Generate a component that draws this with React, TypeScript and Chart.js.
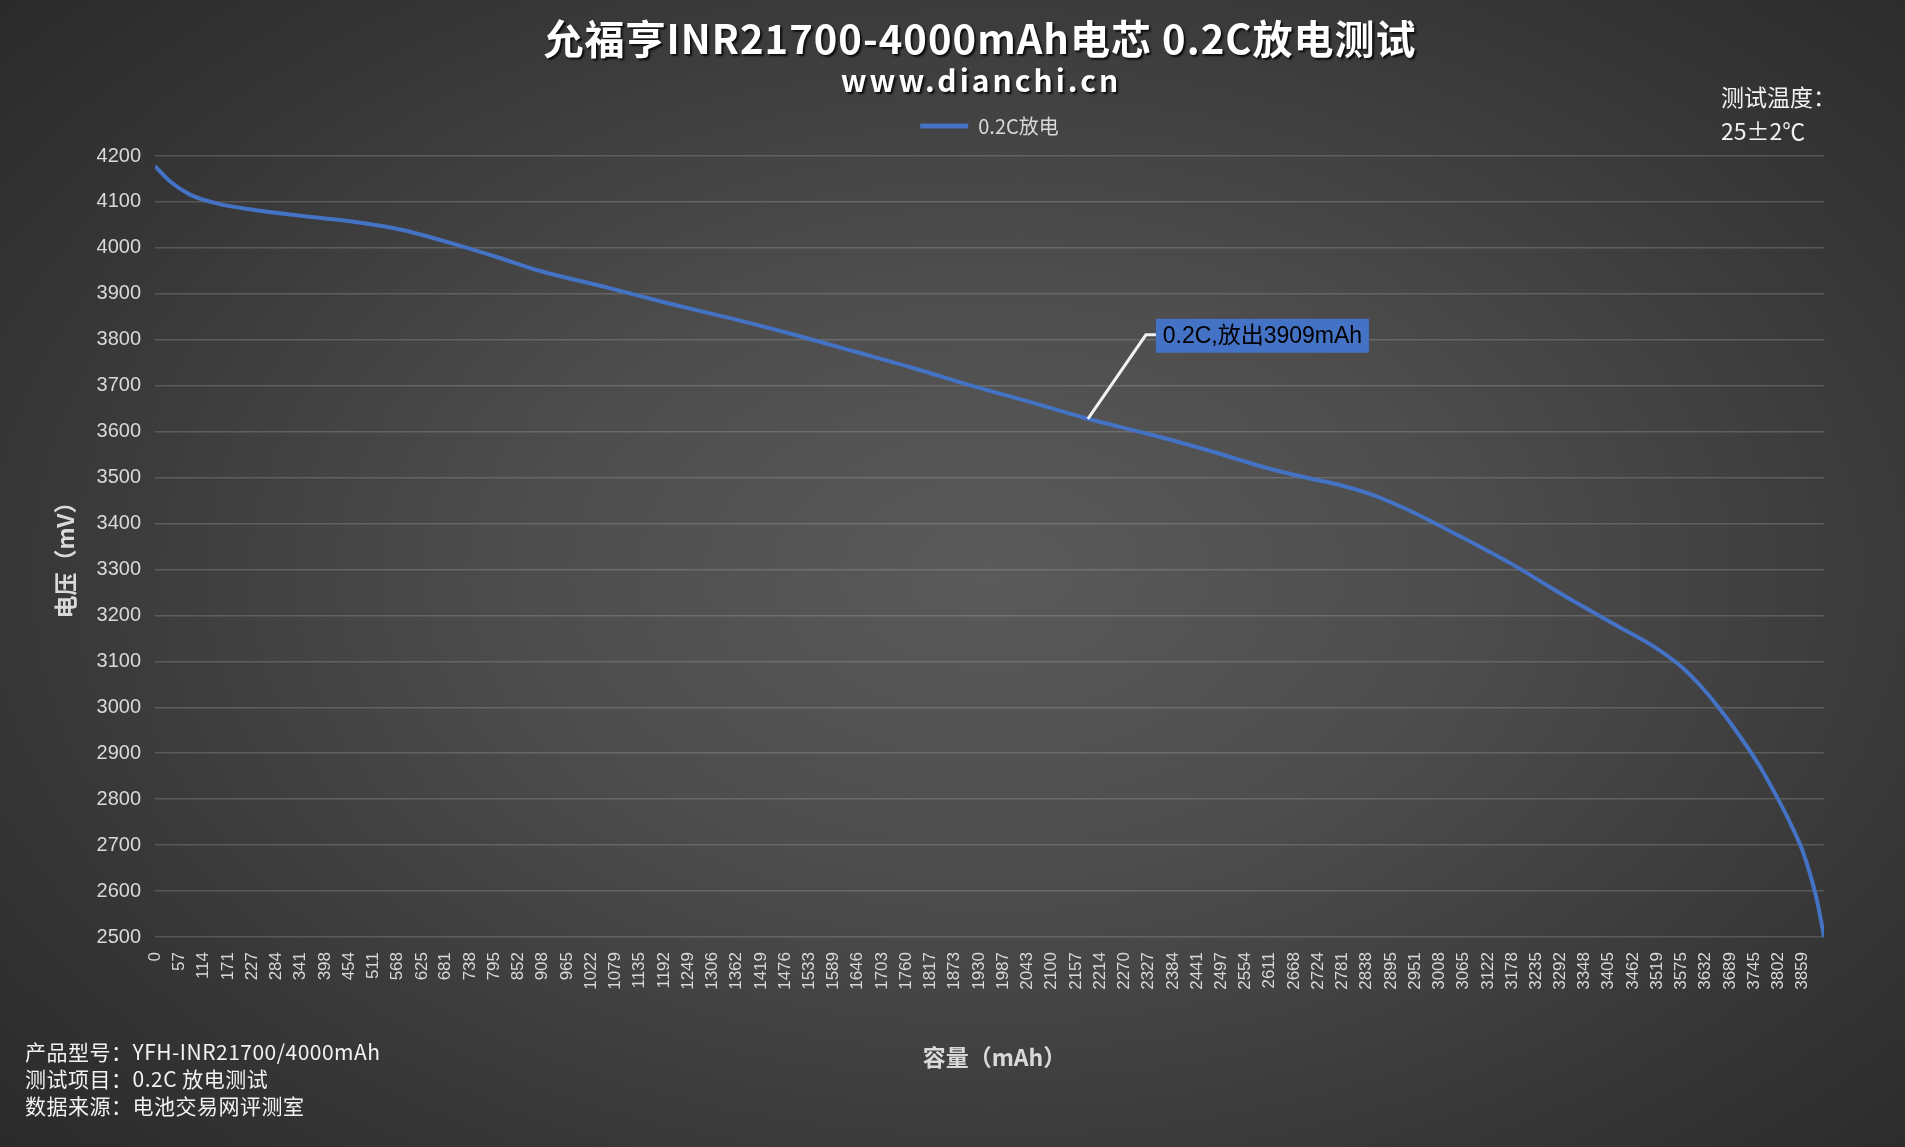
import React, { useEffect, useRef } from 'react';
import { Chart, registerables } from 'chart.js';

Chart.register(...registerables);

// ---------- data ----------
const SERIES_LABEL = '0.2C放电';
const CAPACITY = [0, 35, 82, 144, 222, 340, 457, 574, 691, 808, 886, 1062, 1204, 1347, 1489, 1632, 1774, 1916, 2059, 2185, 2343, 2486, 2600, 2700, 2770, 2856, 2934, 3057, 3181, 3304, 3427, 3509, 3575, 3630, 3666, 3712, 3759, 3798, 3829, 3857, 3876, 3892, 3902, 3909];
const VOLTAGE = [4178, 4145, 4116, 4097, 4084, 4070, 4058, 4040, 4011, 3978, 3954, 3913, 3879, 3847, 3813, 3776, 3739, 3699, 3662, 3628, 3591, 3554, 3522, 3499, 3485, 3461, 3430, 3372, 3310, 3241, 3176, 3133, 3088, 3036, 2995, 2937, 2871, 2806, 2750, 2692, 2638, 2582, 2536, 2500];
const X_TICKS = [0, 57, 114, 171, 227, 284, 341, 398, 454, 511, 568, 625, 681, 738, 795, 852, 908, 965, 1022, 1079, 1135, 1192, 1249, 1306, 1362, 1419, 1476, 1533, 1589, 1646, 1703, 1760, 1817, 1873, 1930, 1987, 2043, 2100, 2157, 2214, 2270, 2327, 2384, 2441, 2497, 2554, 2611, 2668, 2724, 2781, 2838, 2895, 2951, 3008, 3065, 3122, 3178, 3235, 3292, 3348, 3405, 3462, 3519, 3575, 3632, 3689, 3745, 3802, 3859];
const X_MAX = 3909;
const Y_MIN = 2500;
const Y_MAX = 4200;
const Y_STEP = 100;
const ANNOTATION_POINT = [2185, 3628];
const ANNOTATION_TEXT = '0.2C,放出3909mAh';

const TITLE = '允福亨INR21700-4000mAh电芯 0.2C放电测试';
const SUBTITLE = 'www.dianchi.cn';
const X_TITLE = '容量（mAh）';
const Y_TITLE = '电压（mV）';
const TEMP_LINES = ['测试温度：', '25±2℃'];
const INFO_LINES = ['产品型号：YFH-INR21700/4000mAh', '测试项目：0.2C 放电测试', '数据来源：电池交易网评测室'];

// ---------- style ----------
const W = 1905;
const H = 1147;
const CJK = '"Noto Sans CJK SC", "Noto Sans", sans-serif';
const LATIN = '"Liberation Sans", Arial, "Noto Sans CJK SC", sans-serif';
const LINE_COLOR = '#4472c4';
const AXIS_TEXT = '#d9d9d9';
const GRID = 'rgba(255,255,255,0.16)';
const BG = 'radial-gradient(ellipse 70% 75% at 52% 50%, #5a5a5a 0%, #4d4d4d 35%, #363636 75%, #2a2a2a 100%)';

const decorPlugin = {
  id: 'decor',
  beforeLayout(chart: any) {
    const lg = chart.legend;
    if (lg && !lg.__patched) {
      const orig = lg.fit;
      lg.fit = function () {
        orig.call(this);
        this.height += 10;
      };
      lg.__patched = true;
    }
  },
  afterDatasetsDraw(chart: any) {
    const ctx = chart.ctx as CanvasRenderingContext2D;
    const xs = chart.scales.x;
    const ys = chart.scales.y;
    const ax = xs.getPixelForValue(ANNOTATION_POINT[0]);
    const ay = ys.getPixelForValue(ANNOTATION_POINT[1]);
    const elbowX = ax + 58;
    const elbowY = ay - 84;
    const boxL = ax + 68;
    const boxT = ay - 100;
    const boxW = 213;
    const boxH = 34;
    ctx.save();
    ctx.strokeStyle = '#f2f2f2';
    ctx.lineWidth = 3;
    ctx.lineJoin = 'miter';
    ctx.beginPath();
    ctx.moveTo(ax, ay);
    ctx.lineTo(elbowX, elbowY);
    ctx.lineTo(boxL, elbowY);
    ctx.stroke();
    ctx.fillStyle = LINE_COLOR;
    ctx.fillRect(boxL, boxT, boxW, boxH);
    ctx.fillStyle = '#000000';
    ctx.font = `23px ${LATIN}`;
    ctx.textAlign = 'center';
    ctx.textBaseline = 'middle';
    ctx.fillText(ANNOTATION_TEXT, boxL + boxW / 2, boxT + boxH / 2 + 1);
    ctx.restore();
  },
  afterDraw(chart: any) {
    const ctx = chart.ctx as CanvasRenderingContext2D;
    const area = chart.chartArea;
    ctx.save();
    // title with shadow
    ctx.textAlign = 'center';
    ctx.textBaseline = 'middle';
    ctx.shadowColor = 'rgba(0,0,0,0.8)';
    ctx.shadowOffsetX = 2;
    ctx.shadowOffsetY = 2;
    ctx.shadowBlur = 2;
    ctx.fillStyle = '#ffffff';
    ctx.font = `bold 40px ${CJK}`;
    (ctx as any).letterSpacing = '1px';
    ctx.fillText(TITLE, 980, 39);
    ctx.font = `bold 30px ${CJK}`;
    (ctx as any).letterSpacing = '3px';
    ctx.fillText(SUBTITLE, 981, 81);
    (ctx as any).letterSpacing = '0px';
    ctx.shadowColor = 'transparent';
    ctx.shadowOffsetX = 0;
    ctx.shadowOffsetY = 0;
    ctx.shadowBlur = 0;
    // axis titles
    ctx.fillStyle = AXIS_TEXT;
    ctx.font = `bold 23px ${CJK}`;
    ctx.fillText(X_TITLE, (area.left + area.right) / 2 + 5, 1057);
    ctx.save();
    ctx.translate(65, (area.top + area.bottom) / 2 + 8);
    ctx.rotate(-Math.PI / 2);
    ctx.fillText(Y_TITLE, 0, 0);
    ctx.restore();
    // temperature note
    ctx.textAlign = 'left';
    ctx.fillStyle = '#f2f2f2';
    ctx.font = `23px ${CJK}`;
    ctx.fillText(TEMP_LINES[0], 1721, 97);
    ctx.fillText(TEMP_LINES[1], 1721, 131);
    // info lines
    ctx.font = `21px ${CJK}`;
    (ctx as any).letterSpacing = '0.5px';
    INFO_LINES.forEach((t, i) => ctx.fillText(t, 25, 1052 + i * 27));
    (ctx as any).letterSpacing = '0px';
    ctx.restore();
  },
};

export default function App() {
  const ref = useRef<HTMLCanvasElement>(null);
  useEffect(() => {
    document.body.style.margin = '0';
    const canvas = ref.current;
    if (!canvas) return;
    const points = CAPACITY.map((c, i) => ({ x: c, y: VOLTAGE[i] }));
    const chart = new Chart(canvas, {
      type: 'line',
      data: {
        datasets: [
          {
            label: SERIES_LABEL,
            data: points,
            borderColor: LINE_COLOR,
            backgroundColor: LINE_COLOR,
            borderWidth: 4,
            pointRadius: 0,
            cubicInterpolationMode: 'monotone',
            fill: false,
          },
        ],
      },
      options: {
        animation: false,
        responsive: false,
        devicePixelRatio: 1,
        layout: { padding: { top: 99, left: 0, right: 81, bottom: 0 } },
        plugins: {
          title: { display: false },
          subtitle: { display: false },
          tooltip: { enabled: false },
          legend: {
            display: true,
            position: 'top',
            fullSize: false,
            labels: {
              color: AXIS_TEXT,
              font: { size: 20, family: CJK },
              boxWidth: 48,
              boxHeight: 5,
              padding: 17,
              generateLabels: (c: any) =>
                (Chart.defaults.plugins.legend.labels as any).generateLabels(c).map((l: any) => ({
                  ...l,
                  lineWidth: 0,
                  fillStyle: LINE_COLOR,
                  fontColor: AXIS_TEXT,
                })),
            },
          },
        },
        scales: {
          x: {
            type: 'linear',
            min: 0,
            max: X_MAX,
            afterBuildTicks: (s: any) => {
              s.ticks = X_TICKS.map((v) => ({ value: v }));
            },
            afterFit: (s: any) => {
              s.height = H - 937;
            },
            grid: { display: false, drawTicks: false },
            border: { display: false },
            ticks: {
              autoSkip: false,
              minRotation: 90,
              maxRotation: 90,
              padding: 15,
              color: AXIS_TEXT,
              font: { size: 17, family: LATIN },
              callback: (v: any) => String(v),
            },
            title: { display: false },
          },
          y: {
            type: 'linear',
            min: Y_MIN,
            max: Y_MAX,
            afterFit: (s: any) => {
              s.width = 155;
            },
            grid: { color: GRID, lineWidth: 1.5, drawTicks: false },
            border: { display: false },
            ticks: {
              stepSize: Y_STEP,
              padding: 14,
              color: AXIS_TEXT,
              font: { size: 20, family: LATIN },
              callback: (v: any) => String(v),
            },
            title: { display: false },
          },
        },
      },
      plugins: [decorPlugin],
    } as any);
    return () => chart.destroy();
  }, []);
  return (
    <div style={{ width: W, height: H, background: BG, position: 'relative', overflow: 'hidden' }}>
      <canvas ref={ref} width={W} height={H} style={{ display: 'block', width: W, height: H }} />
    </div>
  );
}
